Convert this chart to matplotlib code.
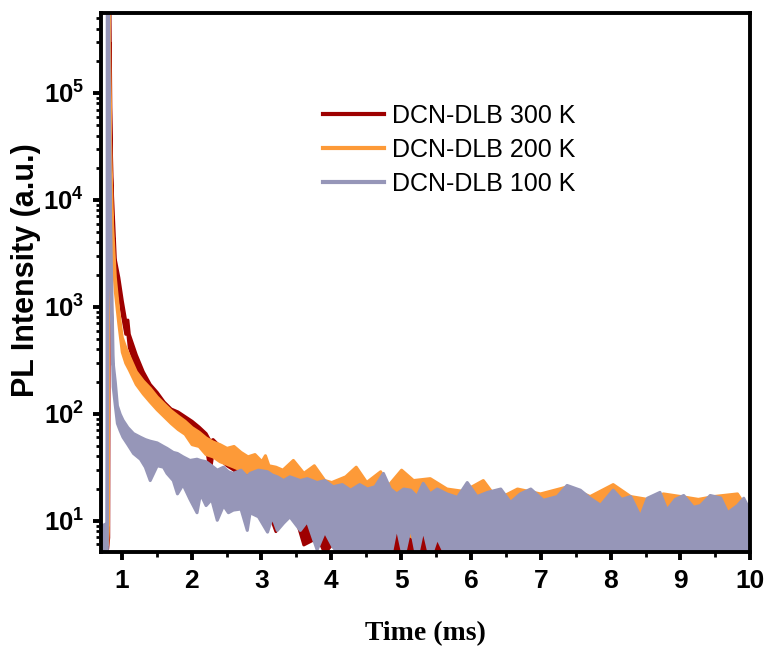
import matplotlib
matplotlib.use("Agg")
import matplotlib.pyplot as plt
from matplotlib.lines import Line2D
from matplotlib.ticker import MultipleLocator, FixedLocator, LogLocator, NullFormatter

plt.rcParams['font.family'] = ['Liberation Sans', 'DejaVu Sans']
plt.rcParams['mathtext.fontset'] = 'custom'
plt.rcParams['mathtext.rm'] = 'Liberation Sans:bold'
plt.rcParams['mathtext.bf'] = 'Liberation Sans:bold'
plt.rcParams['mathtext.it'] = 'Liberation Sans:bold'

# 300 K trace (upper / lower edge of the noisy band)
t_300 = [0.70, 0.79, 0.805, 0.82, 0.84, 0.86, 0.90, 0.95, 1.00, 1.05, 1.08, 1.10, 1.20, 1.30,
         1.40, 1.50, 1.60, 1.70, 1.80, 1.90, 2.00, 2.10, 2.20, 2.26, 2.30, 2.40, 2.50, 2.60,
         2.70, 2.80, 2.90, 3.00, 3.20, 3.30, 3.50, 3.60, 3.80, 3.90, 4.00, 4.20, 4.50, 4.90,
         5.00, 5.20, 5.40, 5.50, 5.60, 6.00, 6.15, 6.30, 7.00, 8.00, 8.06, 8.10, 9.00, 10.0]
hi_300 = [8, 8, 3e5, 1e6, 3.5e4, 1.1e4, 2800, 1900, 1150, 740, 760, 560, 360, 250,
          190, 160, 130, 112, 105, 95, 86, 76, 66, 56, 58, 50, 46, 42,
          38, 34, 30, 27, 21, 19, 15, 14, 11, 10, 9.5, 9, 8, 9,
          8.5, 8, 8, 6.5, 6.5, 7, 6.8, 5.5, 5, 5, 6, 4.8, 5, 5]
lo_300 = [5.5, 5.5, 7, 3e5, 2.2e4, 7000, 2000, 1400, 850, 560, 560, 420, 270, 185,
          145, 120, 100, 86, 82, 74, 66, 58, 50, 29, 44, 38, 33, 30,
          26, 24, 21, 18, 8, 13, 10, 6, 7, 5, 6, 5, 4.5, 4.5,
          4, 4, 4, 4, 4, 4, 4, 4, 4, 4, 4, 4, 4, 4]

# 200 K trace
t_200 = [0.70, 0.79, 0.80, 0.81, 0.83, 0.86, 0.90, 0.95, 1.00, 1.05, 1.10, 1.20, 1.30, 1.40,
         1.50, 1.60, 1.70, 1.80, 1.90, 2.00, 2.10, 2.20, 2.30, 2.40, 2.50, 2.60, 2.70, 2.80,
         2.90, 3.00, 3.05, 3.10, 3.20, 3.30, 3.45, 3.60, 3.75, 3.90, 4.00, 4.20, 4.35, 4.50,
         4.70, 4.80, 5.00, 5.17, 5.41, 5.65, 5.89, 6.17, 6.37, 6.66, 6.99, 7.38, 7.70, 8.03,
         8.28, 8.52, 8.75, 9.00, 9.25, 9.47, 9.81, 9.95, 10.0]
hi_200 = [9, 9, 3e5, 1e6, 4e4, 6000, 1900, 900, 520, 420, 350, 250, 205, 175,
          145, 125, 108, 96, 86, 75, 68, 60, 55, 52, 48, 50, 44, 40,
          42, 36, 41, 33, 32, 30, 37, 28, 33, 24, 23, 26, 32, 23,
          29, 21, 30, 24, 25, 20, 19, 24, 16, 20, 18, 21, 17, 22,
          17, 16, 18, 17, 16, 17, 18, 13, 15]
lo_200 = [6, 6, 8, 5e5, 2e4, 3500, 1400, 700, 380, 300, 260, 190, 155, 130,
          110, 95, 82, 72, 65, 52, 50, 42, 40, 36, 34, 32, 30, 28,
          27, 25, 25, 24, 22, 21, 22, 20, 19, 17, 16, 15, 15, 14,
          13, 12, 8, 7, 8, 6, 7, 6, 6, 7, 6, 6, 6, 6,
          6, 6, 6, 6, 6, 6, 6, 6, 6]

# 100 K trace
t_100 = [0.70, 0.78, 0.785, 0.80, 0.83, 0.845, 0.87, 0.90, 0.93, 0.97, 1.01, 1.08, 1.16, 1.26,
         1.33, 1.40, 1.50, 1.59, 1.64, 1.73, 1.79, 1.87, 1.97, 2.07, 2.12, 2.20, 2.28, 2.36,
         2.45, 2.52, 2.59, 2.70, 2.79, 2.83, 2.95, 3.08, 3.15, 3.22, 3.31, 3.40, 3.55, 3.65,
         3.79, 3.90, 4.02, 4.15, 4.27, 4.40, 4.51, 4.62, 4.74, 4.84, 4.93, 5.03, 5.13, 5.22,
         5.31, 5.41, 5.51, 5.65, 5.80, 5.94, 6.08, 6.23, 6.42, 6.56, 6.70, 6.85, 7.03, 7.23,
         7.37, 7.56, 7.70, 7.85, 8.03, 8.15, 8.28, 8.42, 8.52, 8.70, 8.80, 8.92, 9.04, 9.18,
         9.28, 9.42, 9.57, 9.67, 9.81, 9.90, 9.97, 10.0]
hi_100 = [9, 9.5, 1e6, 1e6, 8000, 2200, 300, 200, 120, 100, 88, 75, 66, 61,
          58, 56, 54, 50, 48, 44, 43, 40, 37, 38, 37, 36, 33, 30,
          32, 29, 28, 30, 26, 28, 30, 29, 27, 26, 24, 26, 24, 25,
          23, 24, 21, 22, 19.5, 22, 20, 21, 28, 20, 18, 20, 19.5, 17,
          22.6, 18, 20, 18, 16.7, 23, 17, 18.6, 20, 15, 18, 20, 15.7, 17,
          21.6, 19.5, 16.4, 14.1, 19.5, 16, 17, 11, 16.4, 18.6, 12.7, 16, 17.4, 13.5,
          14, 17.4, 16.5, 12, 14, 16.4, 13.3, 14]
lo_100 = [4.5, 4.5, 4.5, 2e5, 2500, 900, 180, 120, 82, 70, 61, 52, 43, 38,
          32, 24, 33, 32, 28, 24, 18, 22, 16, 12, 18, 14, 16, 10.2,
          14, 12, 12.7, 13, 8.2, 12, 11, 7.9, 11, 8.2, 9.6, 11, 8.2, 10,
          5.4, 8, 5.7, 4.5, 4.5, 4.5, 4.5, 4.5, 4.5, 4.5, 9, 4.5, 9, 4.5,
          8.5, 4.5, 7, 4.5, 4.5, 4.5, 4.5, 4.5, 4.5, 4.5, 4.5, 4.5, 4.5, 4.5,
          4.5, 4.5, 4.5, 4.5, 4.5, 4.5, 4.5, 4.5, 4.5, 4.5, 4.5, 4.5, 4.5, 4.5,
          4.5, 4.5, 4.5, 4.5, 4.5, 4.5, 4.5, 4.5]

labels = ['DCN-DLB 300 K', 'DCN-DLB 200 K', 'DCN-DLB 100 K']
colors = ['#9e0000', '#fd9a38', '#9696b8']

x_ticks = [1, 2, 3, 4, 5, 6, 7, 8, 9, 10]
y_ticks = [10, 100, 1000, 10000, 100000]
y_ticklabels = [r'$\mathbf{10^{1}}$', r'$\mathbf{10^{2}}$', r'$\mathbf{10^{3}}$',
                r'$\mathbf{10^{4}}$', r'$\mathbf{10^{5}}$']

fig = plt.figure(figsize=(7.64, 6.49), dpi=100)
ax = fig.add_axes([0.132, 0.1495, 0.850, 0.8305])

# band for every trace
traces = [(t_300, hi_300, lo_300), (t_200, hi_200, lo_200), (t_100, hi_100, lo_100)]
for (t, hi, lo), c in zip(traces, colors):
    ax.fill_between(t, lo, hi, color=c, lw=2.2, edgecolor=c)

ax.set_yscale('log')
ax.set_xlim(0.7, 10)
ax.set_ylim(5.1, 5.6e5)

ax.xaxis.set_major_locator(FixedLocator(x_ticks))
ax.xaxis.set_minor_locator(MultipleLocator(0.5))
ax.set_xticklabels([str(v) for v in x_ticks])
ax.yaxis.set_major_locator(FixedLocator(y_ticks))
ax.set_yticklabels(y_ticklabels)
ax.yaxis.set_minor_locator(LogLocator(base=10, subs=range(2, 10)))
ax.yaxis.set_minor_formatter(NullFormatter())

for s in ax.spines.values():
    s.set_linewidth(2.8)
ax.tick_params(which='major', direction='out', length=6, width=2.8, pad=6)
ax.tick_params(axis='x', which='major', labelsize=19)
ax.tick_params(axis='y', which='major', labelsize=18.5)
ax.tick_params(which='minor', direction='out', length=3.5, width=2.0)
ax.tick_params(top=False, right=False, which='both')
for lab in ax.get_xticklabels():
    lab.set_fontweight('bold')

ax.set_xlabel('Time (ms)', fontfamily='Liberation Serif', fontweight='bold', fontsize=20)
ax.xaxis.set_label_coords(0.5, -0.128)
ax.set_ylabel('PL Intensity (a.u.)', fontweight='bold', fontsize=22)
ax.yaxis.set_label_coords(-0.092, 0.523)

handles = [Line2D([0], [0], color=c, lw=3) for c in colors]
ax.legend(handles, labels, loc='center left', bbox_to_anchor=(0.342, 0.746), frameon=False,
          fontsize=18, borderpad=0, borderaxespad=0, handlelength=2.45, handletextpad=0.33,
          labelspacing=0.4)

fig.savefig('out.png', dpi=100)
